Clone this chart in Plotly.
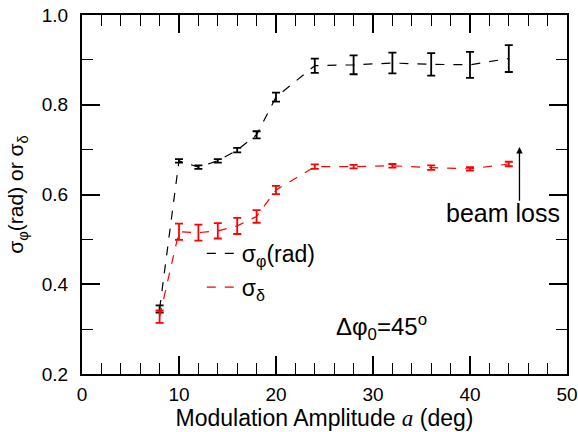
import plotly.graph_objects as go

amp = [8, 10, 12, 14, 16, 18, 20, 24, 28, 32, 36, 40, 44]
sigma_phi = [0.345, 0.675, 0.661, 0.675, 0.699, 0.733, 0.817, 0.887, 0.889, 0.893, 0.890, 0.889, 0.903]
sigma_phi_err = [0.008, 0.004, 0.004, 0.004, 0.005, 0.008, 0.010, 0.016, 0.021, 0.023, 0.025, 0.029, 0.030]
sigma_delta = [0.328, 0.517, 0.515, 0.519, 0.530, 0.551, 0.610, 0.662, 0.662, 0.664, 0.660, 0.657, 0.668]
sigma_delta_err = [0.014, 0.018, 0.018, 0.017, 0.018, 0.014, 0.009, 0.005, 0.004, 0.004, 0.005, 0.004, 0.005]

FONT = "Liberation Sans, Arial, sans-serif"

fig = go.Figure()
fig.add_trace(go.Scatter(
    x=amp, y=sigma_phi, mode="lines", name="σ<sub>φ</sub>(rad)", legendgroup="a",
    line=dict(color="black", width=1.2, dash="dash"),
    error_y=dict(type="data", array=sigma_phi_err, color="black", thickness=1.8, width=4),
))
fig.add_trace(go.Scatter(
    x=amp, y=sigma_delta, mode="lines", name="σ<sub>δ</sub>", legendgroup="b",
    line=dict(color="red", width=1.2, dash="dash"),
    error_y=dict(type="data", array=sigma_delta_err, color="red", thickness=1.8, width=4),
))

axis_common = dict(
    showline=True, linecolor="black", linewidth=2, mirror="ticks",
    ticks="inside", ticklen=18, tickwidth=1.5, tickcolor="black",
    showgrid=False, zeroline=False, automargin=False,
    tickfont=dict(family=FONT, size=19, color="black"),
)
fig.update_xaxes(
    range=[0, 50], dtick=10, tick0=0,
    minor=dict(ticks="inside", dtick=2, ticklen=11, tickwidth=1, tickcolor="black"),
    title=dict(text="Modulation Amplitude <i><span style=\"font-family:Liberation Serif, Times New Roman, serif\">a</span></i> (deg)",
               font=dict(family=FONT, size=23, color="black"), standoff=1),
    ticklabelstandoff=2,
    **axis_common,
)
fig.update_yaxes(
    range=[0.2, 1.0], dtick=0.2, tick0=0.2, tickformat=".1f",
    minor=dict(ticks="inside", dtick=0.1, ticklen=11, tickwidth=1, tickcolor="black"),
    title=dict(text="σ<sub>φ</sub>(rad) or σ<sub>δ</sub>",
               font=dict(family=FONT, size=21, color="black"), standoff=12),
    ticklabelstandoff=8,
    **axis_common,
)

fig.add_annotation(x=45.1, y=0.706, ax=45.1, ay=0.583, xref="x", yref="y", axref="x", ayref="y",
                   text="", showarrow=True, arrowhead=2, arrowsize=1, arrowwidth=1.3, arrowcolor="black")
fig.add_annotation(x=43.4, y=0.559, xref="x", yref="y", text="beam loss", showarrow=False,
                   font=dict(family=FONT, size=25, color="black"), xanchor="center", yanchor="middle")
fig.add_annotation(x=30.9, y=0.305, xref="x", yref="y", text="Δφ<sub>0</sub>=45<sup>o</sup>", showarrow=False,
                   font=dict(family=FONT, size=24, color="black"), xanchor="center", yanchor="middle")

fig.update_layout(
    width=578, height=432,
    margin=dict(l=82, r=11, t=15, b=58, autoexpand=False),
    paper_bgcolor="white", plot_bgcolor="white",
    showlegend=True,
    legend=dict(x=0.247, y=0.396, xanchor="left", yanchor="top", bgcolor="rgba(0,0,0,0)",
                font=dict(family=FONT, size=23, color="black"), tracegroupgap=1, itemwidth=30),
    font=dict(family=FONT, color="black"),
)

fig.write_html("out.html")
